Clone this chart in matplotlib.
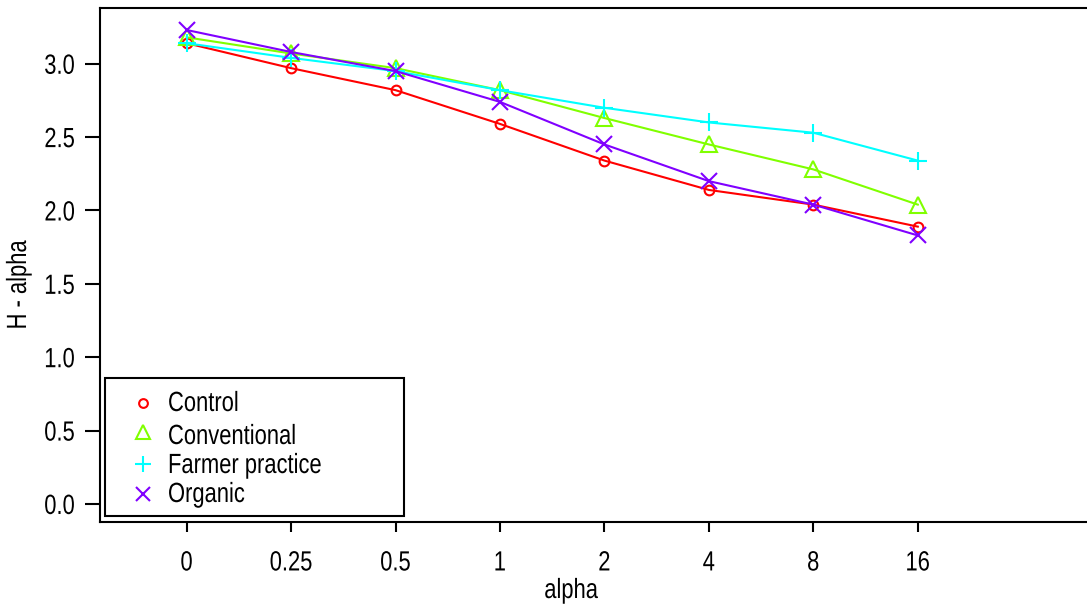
import matplotlib
matplotlib.use("Agg")
import matplotlib.pyplot as plt
from matplotlib.patches import Rectangle
from matplotlib.patheffects import AbstractPathEffect
from matplotlib.transforms import Affine2D

plt.rcParams['font.family'] = ['Liberation Sans', 'DejaVu Sans']

alpha_labels = ["0", "0.25", "0.5", "1", "2", "4", "8", "16"]
series_names = ["Control", "Conventional", "Farmer practice", "Organic"]

control = [3.14, 2.97, 2.82, 2.59, 2.34, 2.14, 2.04, 1.89]
conventional = [3.18, 3.07, 2.97, 2.82, 2.63, 2.45, 2.28, 2.04]
farmer_practice = [3.14, 3.04, 2.95, 2.82, 2.70, 2.60, 2.53, 2.34]
organic = [3.23, 3.08, 2.95, 2.74, 2.45, 2.20, 2.04, 1.83]

yticks = [0.0, 0.5, 1.0, 1.5, 2.0, 2.5, 3.0]

colors = ["#FF0000", "#80FF00", "#00FFFF", "#8000FF"]
markers = ["o", "^", "+", "x"]
msizes = [7, 11, 13, 11]
values = [control, conventional, farmer_practice, organic]

FS = 20
SQUEEZE = 0.79


class Condensed(AbstractPathEffect):
    """Narrow the glyphs along the text direction, keeping the anchor fixed."""

    def __init__(self, sx, ha):
        super().__init__()
        self.sx = sx
        self.ha = ha

    def draw_path(self, renderer, gc, tpath, affine, rgbFace=None):
        ext = tpath.get_extents()
        a = {"left": 0.0, "center": ext.x1 / 2.0, "right": ext.x1}[self.ha]
        pre = Affine2D().translate(-a, 0).scale(self.sx, 1).translate(a, 0)
        renderer.draw_path(gc, tpath, pre + affine, rgbFace)


W, H = 1087, 607
fig = plt.figure(figsize=(W / 100, H / 100), dpi=100)
left, right, top, bottom = 100, 1087, 8, 522
ax = fig.add_axes([left / W, (H - bottom) / H, (right - left) / W, (bottom - top) / H])

x = list(range(len(alpha_labels)))
for vals, c, m, ms in zip(values, colors, markers, msizes):
    ax.plot(x, vals, color=c, linewidth=1.5, marker=m, markersize=ms,
            markerfacecolor="none", markeredgecolor=c, markeredgewidth=1.5,
            clip_on=False)

ax.set_xlim(-0.83, 8.62)
ax.set_ylim(-0.123, 3.38)
ax.set_xticks(x)
ax.set_xticklabels(alpha_labels)
ax.set_yticks(yticks)
ax.set_yticklabels([f"{v:.1f}" for v in yticks])

for s in ["left", "bottom", "top"]:
    ax.spines[s].set_linewidth(1.5)
ax.spines["right"].set_visible(False)
ax.tick_params(direction="out", width=1.5, labelsize=FS)
ax.tick_params(axis="x", length=7.5, pad=13)
ax.tick_params(axis="y", length=11, pad=7)

for lbl in ax.get_xticklabels():
    lbl.set_path_effects([Condensed(SQUEEZE, "center")])
for lbl in ax.get_yticklabels():
    lbl.set_path_effects([Condensed(SQUEEZE, "right")])

ax.set_xlabel("alpha", fontsize=FS, path_effects=[Condensed(SQUEEZE, "center")])
ax.set_ylabel("H - alpha", fontsize=FS, path_effects=[Condensed(SQUEEZE, "center")])
ax.xaxis.set_label_coords((571 - left) / (right - left), (bottom - 591) / (bottom - top), transform=ax.transAxes)
ax.yaxis.set_label_coords((19 - left) / (right - left), (bottom - 285) / (bottom - top), transform=ax.transAxes)
ax.xaxis.label.set_va("center")
ax.yaxis.label.set_va("center")

# legend box drawn in axes coordinates
aw, ah = right - left, bottom - top
ax.add_patch(Rectangle(((105 - left) / aw, (bottom - 516) / ah), 299 / aw, 138 / ah,
                       transform=ax.transAxes, facecolor="white", edgecolor="black",
                       linewidth=1.5, zorder=5))
row_y = [404, 437, 466, 495]
mark_y = [403, 432, 464, 494]
for name, c, m, ms, ty, my in zip(series_names, colors, markers, msizes, row_y, mark_y):
    ax.plot([(143 - left) / aw], [(bottom - my) / ah], transform=ax.transAxes,
            marker=m, markersize=ms * 0.9, markerfacecolor="none", markeredgecolor=c,
            markeredgewidth=1.5, linestyle="none", zorder=6, clip_on=False)
    ax.text((168 - left) / aw, (bottom - ty) / ah, name, transform=ax.transAxes,
            fontsize=FS, va="center", ha="left", zorder=6,
            path_effects=[Condensed(SQUEEZE, "left")])

fig.savefig("out.png", dpi=100)
